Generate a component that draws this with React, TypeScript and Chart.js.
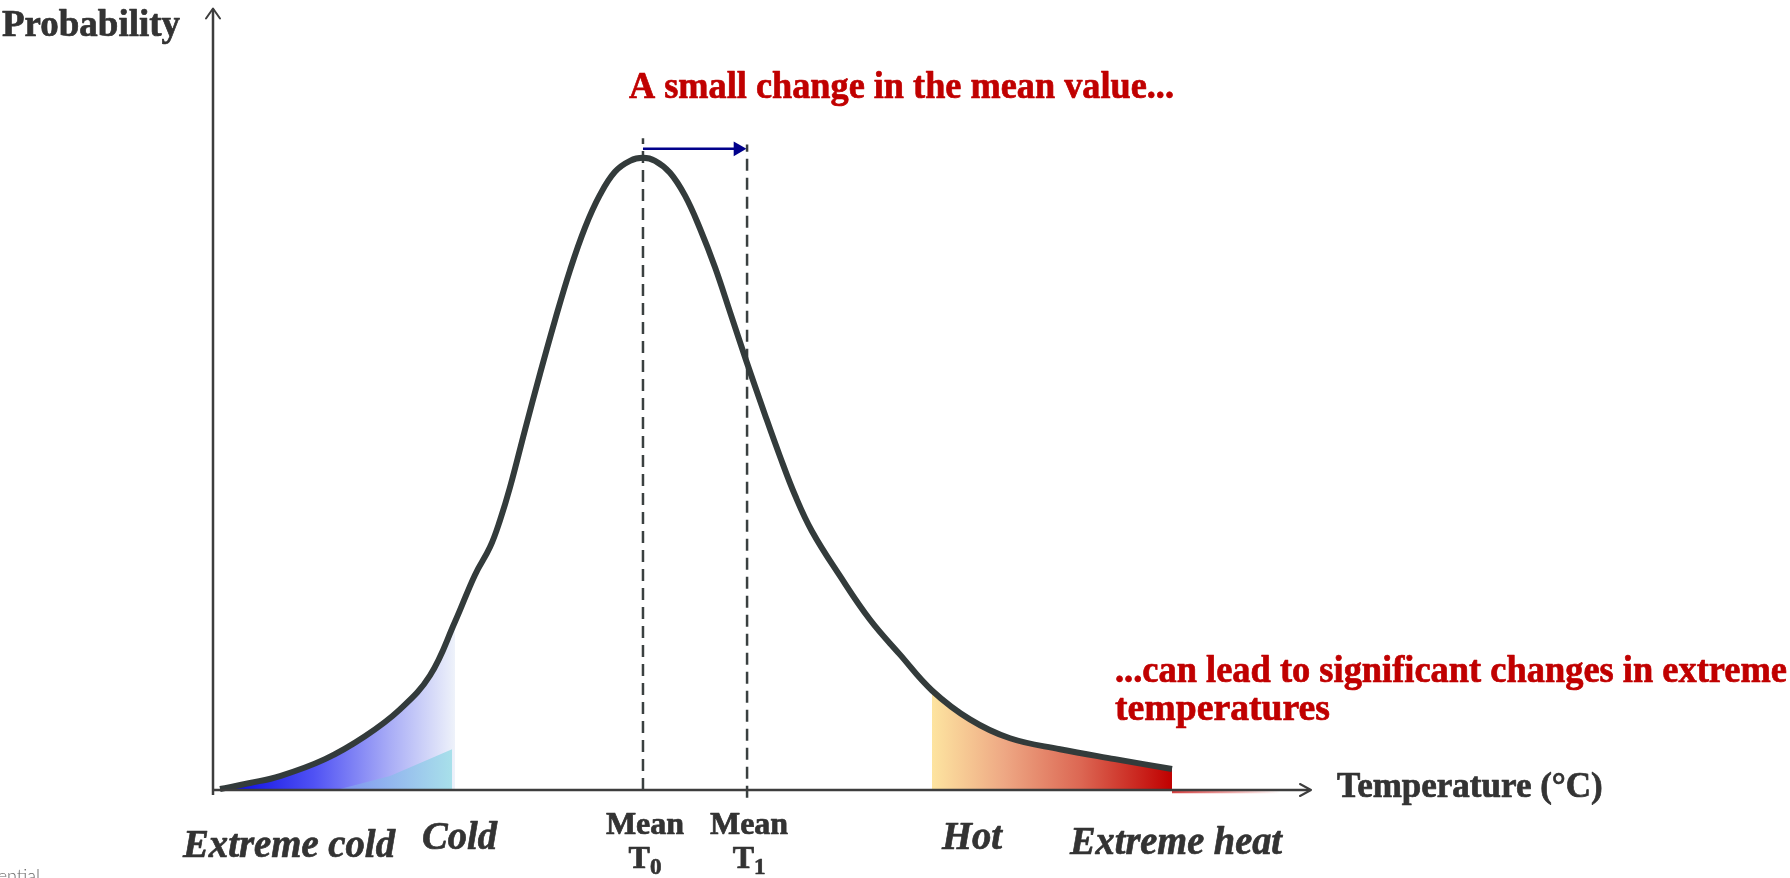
import React, { useEffect, useRef } from "react";
import { Chart, registerables } from "chart.js";

Chart.register(...registerables);

// ---------- DATA (abstract units: x = temperature 0..100, y = probability 0..100) ----------
const curveX = [0.64, 3.37, 6.1, 10.2, 13.84, 17.03, 19.76, 22.04, 23.86, 25.23, 26.14, 27.05, 28.42, 29.78, 31.15, 32.51, 33.88, 35.25, 36.61, 37.98, 39.16, 40.26, 41.62, 42.99, 44.35, 45.72, 47.09, 48.54, 50.27, 51.64, 53.01, 54.55, 57.1, 59.84, 62.57, 65.48, 68.94, 72.59, 77.14, 82.15, 87.34];
const curveY = [0.13, 0.89, 1.78, 3.95, 6.88, 10.32, 14.65, 21.53, 27.52, 31.08, 34.52, 38.73, 46.11, 53.25, 60.13, 66.5, 71.97, 76.18, 79.11, 80.51, 80.89, 80.51, 78.98, 76.05, 71.85, 66.88, 61.15, 55.03, 48.03, 42.68, 37.71, 33.12, 27.39, 21.78, 17.32, 12.74, 9.04, 6.62, 5.22, 3.95, 2.68];

const coldEdge = 22.04; // end of the cold shaded area
const hotStart = 65.48; // start of the hot shaded area
const cyanX = [11.57, 16.12, 21.77];
const cyanY = [0.13, 1.78, 5.22];
const tailX = [87.34, 97.2];
const tailY = [-0.25, -0.25];

const meanT0 = 39.16;
const meanT1 = 48.64;
const meanT0Top = 83.4;
const meanT1Top = 82.6;
const meanT1Bottom = -1.0;
const shiftY = 82.04;
const shiftArrowEnd = 47.81;

const X_MAX = 100;
const Y_MAX = 100;

const yAxisTitle = "Probability";
const xAxisTitle = "Temperature (°C)";
const titleText = "A small change in the mean value...";
const noteLines = ["...can lead to significant changes in extreme", "temperatures"];
const regionLabels = ["Extreme cold", "Cold", "Hot", "Extreme heat"];
const meanLabel = "Mean";
const meanSubs = ["0", "1"];
const footerText = "Confidential";

// ---------- STYLE ----------
const DARK = "#333333";
const CURVE = "#333b3b";
const RED = "#c00000";
const NAVY = "#00008b";
const SERIF = '"Liberation Serif", "Times New Roman", serif';
const TENSION = 0.4;

function pts(xs: number[], ys: number[]) {
  return xs.map((x, i) => ({ x, y: ys[i] }));
}

function hGradient(chart: any, fromX: number, toX: number, stops: [number, string][]) {
  const area = chart.chartArea;
  if (!area) return stops[stops.length - 1][1];
  const xs = chart.scales.x;
  const g = chart.ctx.createLinearGradient(xs.getPixelForValue(fromX), 0, xs.getPixelForValue(toX), 0);
  stops.forEach(([o, c]) => g.addColorStop(o, c));
  return g;
}

function drawText(ctx: CanvasRenderingContext2D, s: string, x: number, y: number, font: string, color: string, align: CanvasTextAlign = "left", maxW?: number, heavy = 0.7) {
  ctx.font = font;
  ctx.fillStyle = color;
  ctx.strokeStyle = color;
  ctx.lineWidth = heavy;
  ctx.lineJoin = "round";
  ctx.textAlign = align;
  ctx.textBaseline = "alphabetic";
  if (maxW) {
    ctx.fillText(s, x, y, maxW);
    if (heavy > 0) ctx.strokeText(s, x, y, maxW);
  } else {
    ctx.fillText(s, x, y);
    if (heavy > 0) ctx.strokeText(s, x, y);
  }
}

const annotationPlugin = {
  id: "annotationPlugin",
  afterDatasetsDraw(chart: any) {
    const { ctx, scales } = chart;
    const xs = scales.x;
    const ys = scales.y;
    const x0 = xs.getPixelForValue(0);
    const y0 = ys.getPixelForValue(0);
    const xEnd = xs.getPixelForValue(X_MAX);
    const yTop = ys.getPixelForValue(Y_MAX);
    ctx.save();
    ctx.strokeStyle = "#3d3d3d";
    ctx.lineWidth = 2.5;
    ctx.beginPath();
    ctx.moveTo(x0, y0 + 5);
    ctx.lineTo(x0, yTop + 1);
    ctx.stroke();
    ctx.beginPath();
    ctx.moveTo(x0, y0);
    ctx.lineTo(xEnd - 1, y0);
    ctx.stroke();
    ctx.lineWidth = 2;
    ctx.lineJoin = "round";
    ctx.lineCap = "round";
    ctx.beginPath();
    ctx.moveTo(x0 - 7, yTop + 10);
    ctx.lineTo(x0, yTop);
    ctx.lineTo(x0 + 7, yTop + 10);
    ctx.stroke();
    ctx.beginPath();
    ctx.moveTo(xEnd - 11, y0 - 6);
    ctx.lineTo(xEnd, y0);
    ctx.lineTo(xEnd - 11, y0 + 6);
    ctx.stroke();
    ctx.restore();
  },
  afterDraw(chart: any) {
    const { ctx, scales } = chart;
    const xs = scales.x;
    ctx.save();
    const bold = (s: number) => `bold ${s}px ${SERIF}`;
    const boldItalic = (s: number) => `italic bold ${s}px ${SERIF}`;

    drawText(ctx, yAxisTitle, 2, 36, bold(38), DARK, "left", 178);
    drawText(ctx, titleText, 629, 98, bold(38), RED, "left", 545);
    drawText(ctx, noteLines[0], 1115, 682, bold(38), RED, "left", 672);
    drawText(ctx, noteLines[1], 1115, 720, bold(38), RED, "left", 215);
    drawText(ctx, xAxisTitle, 1337, 797, bold(35), DARK, "left", 267);

    // Mean labels
    [meanT0, meanT1].forEach((m, i) => {
      const cx = xs.getPixelForValue(m) + 2;
      drawText(ctx, meanLabel, cx, 834, bold(32), DARK, "center", 81);
      ctx.font = bold(32);
      const wT = ctx.measureText("T").width;
      ctx.font = bold(23);
      const wS = ctx.measureText(meanSubs[i]).width;
      const start = cx - (wT + wS) / 2;
      drawText(ctx, "T", start, 868, bold(32), DARK, "left");
      drawText(ctx, meanSubs[i], start + wT, 874, bold(23), DARK, "left");
    });

    // Region labels
    drawText(ctx, regionLabels[0], 183, 857, boldItalic(40), DARK, "left", 212);
    drawText(ctx, regionLabels[1], 422, 849, boldItalic(40), DARK, "left", 75);
    drawText(ctx, regionLabels[2], 942, 849, boldItalic(40), DARK, "left", 60);
    drawText(ctx, regionLabels[3], 1070, 854, boldItalic(40), DARK, "left", 212);

    drawText(ctx, footerText, 40, 882, `300 18px Lato, "Open Sans", sans-serif`, "#666", "right", undefined, 0);
    ctx.restore();
  },
};

export default function App() {
  const ref = useRef<HTMLCanvasElement | null>(null);

  useEffect(() => {
    if (!ref.current) return;
    const curve = pts(curveX, curveY);
    const cold = curve.filter((p) => p.x <= coldEdge);
    const hot = curve.filter((p) => p.x >= hotStart);

    const chart = new Chart(ref.current, {
      type: "line",
      data: {
        datasets: [
          {
            label: "Distribution",
            data: curve,
            borderColor: CURVE,
            borderWidth: 6,
            pointRadius: 0,
            fill: false,
            tension: TENSION,
            order: 0,
            clip: false,
          } as any,
          {
            label: "Shift",
            data: [
              { x: meanT0, y: shiftY },
              { x: shiftArrowEnd, y: shiftY },
            ],
            borderColor: NAVY,
            borderWidth: 2.5,
            pointRadius: [0, 8.5],
            pointStyle: "triangle",
            pointRotation: 90,
            pointBackgroundColor: NAVY,
            pointBorderColor: NAVY,
            pointBorderWidth: 0,
            fill: false,
            order: 0,
            clip: false,
          } as any,
          {
            label: "Mean T0",
            data: [
              { x: meanT0, y: 0 },
              { x: meanT0, y: meanT0Top },
            ],
            borderColor: "#3a4040",
            borderWidth: 2.5,
            borderDash: [12, 7],
            pointRadius: 0,
            fill: false,
            order: 1,
            clip: false,
          } as any,
          {
            label: "Mean T1",
            data: [
              { x: meanT1, y: meanT1Bottom },
              { x: meanT1, y: meanT1Top },
            ],
            borderColor: "#3a4040",
            borderWidth: 2.5,
            borderDash: [12, 7],
            pointRadius: 0,
            fill: false,
            order: 1,
            clip: false,
          } as any,
          {
            label: "Cold band",
            data: pts(cyanX, cyanY),
            borderWidth: 0,
            borderColor: "rgba(0,0,0,0)",
            pointRadius: 0,
            tension: 0,
            fill: "origin",
            backgroundColor: (c: any) =>
              hGradient(c.chart, cyanX[0], cyanX[cyanX.length - 1], [
                [0, "rgba(125,150,240,0.85)"],
                [1, "#a8e0ea"],
              ]),
            order: 4,
            clip: false,
          } as any,
          {
            label: "Cold",
            data: cold,
            borderWidth: 0,
            borderColor: "rgba(0,0,0,0)",
            pointRadius: 0,
            tension: TENSION,
            fill: "origin",
            backgroundColor: (c: any) =>
              hGradient(c.chart, cold[0].x, coldEdge, [
                [0, "#0000e0"],
                [0.4, "#5052f4"],
                [0.72, "#a8acf6"],
                [1, "#eef2fa"],
              ]),
            order: 5,
            clip: false,
          } as any,
          {
            label: "Hot",
            data: hot,
            borderWidth: 0,
            borderColor: "rgba(0,0,0,0)",
            pointRadius: 0,
            tension: TENSION,
            fill: "origin",
            backgroundColor: (c: any) =>
              hGradient(c.chart, hotStart, hot[hot.length - 1].x, [
                [0, "#fde4a0"],
                [0.3, "#eea884"],
                [0.62, "#dc6753"],
                [1, "#c00000"],
              ]),
            order: 5,
            clip: false,
          } as any,
          {
            label: "Tail",
            data: pts(tailX, tailY),
            borderWidth: 2.5,
            borderColor: (c: any) =>
              hGradient(c.chart, tailX[0], tailX[1], [
                [0, "rgba(200,0,0,0.75)"],
                [1, "rgba(200,0,0,0)"],
              ]),
            pointRadius: 0,
            fill: false,
            order: 6,
            clip: false,
          } as any,
        ],
      },
      options: {
        responsive: false,
        animation: false,
        devicePixelRatio: 1,
        events: [],
        layout: { padding: { left: 213, right: 479, top: 5, bottom: 88 } },
        scales: {
          x: { type: "linear", min: 0, max: X_MAX, display: false },
          y: { type: "linear", min: 0, max: Y_MAX, display: false },
        },
        plugins: {
          legend: { display: false },
          tooltip: { enabled: false },
          title: { display: false },
        },
      } as any,
      plugins: [annotationPlugin],
    });
    return () => chart.destroy();
  }, []);

  return (
    <div style={{ position: "fixed", left: 0, top: 0, width: 1790, height: 878, background: "#fff", overflow: "hidden" }}>
      <canvas ref={ref} width={1790} height={878} style={{ display: "block", width: 1790, height: 878 }} />
    </div>
  );
}
